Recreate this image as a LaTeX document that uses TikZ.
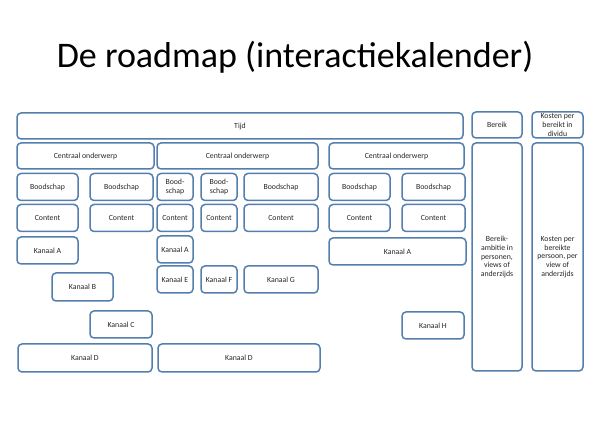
\documentclass[tikz,border=0pt]{standalone}
\usepackage{fontspec}
\setmainfont{Carlito}
\definecolor{boxblue}{RGB}{84,126,174}

\begin{document}
\begin{tikzpicture}[x=1pt,y=-1pt,
  box/.style={draw=boxblue, line width=1.5pt, rounded corners=4pt, align=center, inner sep=1pt, text=black!85, font=\fontsize{7.8}{8.6}\selectfont}]
\useasboundingbox (0,0) rectangle (595,446);
\node[anchor=base, font=\fontsize{36}{42}\selectfont] (title) at (295,68) {De roadmap (interactiekalender)};
% top rows
\foreach \n/\xa/\ya/\xb/\yb/\t in {
  tijd/17/113/463/139/Tijd,
  bereik/472/112/522/138/Bereik,
  kosten/532/112/583/138/{Kosten per\\bereikt in\\dividu},
  co1/17/143/154/169/Centraal onderwerp,
  co2/157/143/318/169/Centraal onderwerp,
  co3/329/143/464/169/Centraal onderwerp,
  bereikcol/472/143/522/371/{Bereik-\\ambitie in\\personen,\\views of\\anderzijds},
  kostencol/532/143/583/371/{Kosten per\\bereikte\\persoon, per\\view of\\anderzijds}}
  \node[box, minimum width={\xb-\xa}, minimum height={\yb-\ya}] (\n) at ({(\xa+\xb)/2},{(\ya+\yb)/2}) {\t};
% boodschap and content
\foreach \n/\xa/\xb/\t in {
  1/17/78/Boodschap, 2/90/153/Boodschap, 3/157/193/{Bood-\\schap}, 4/201/237/{Bood-\\schap},
  5/244/318/Boodschap, 6/329/390/Boodschap, 7/402/465/Boodschap}
{
  \node[box, minimum width={\xb-\xa}, minimum height=27] (bc\n) at ({(\xa+\xb)/2},187) {\t};
  \node[box, minimum width={\xb-\xa}, minimum height=27] (ct\n) at ({(\xa+\xb)/2},218) {Content};
}
% kanalen
\foreach \n/\xa/\ya/\xb/\yb/\t in {
  ka1/17/237/78/264/Kanaal A,
  ka2/157/236/193/263/Kanaal A,
  ka3/329/238/466/265/Kanaal A,
  kb/52/273/113/301/Kanaal B,
  ke/157/266/193/293/Kanaal E,
  kf/201/266/237/293/Kanaal F,
  kg/244/266/318/293/Kanaal G,
  kc/90/311/152/338/Kanaal C,
  kh/402/312/464/339/Kanaal H,
  kd1/18/344/152/372/Kanaal D,
  kd2/158/344/320/372/Kanaal D}
  \node[box, minimum width={\xb-\xa}, minimum height={\yb-\ya}] (\n) at ({(\xa+\xb)/2},{(\ya+\yb)/2}) {\t};
\end{tikzpicture}
\end{document}
